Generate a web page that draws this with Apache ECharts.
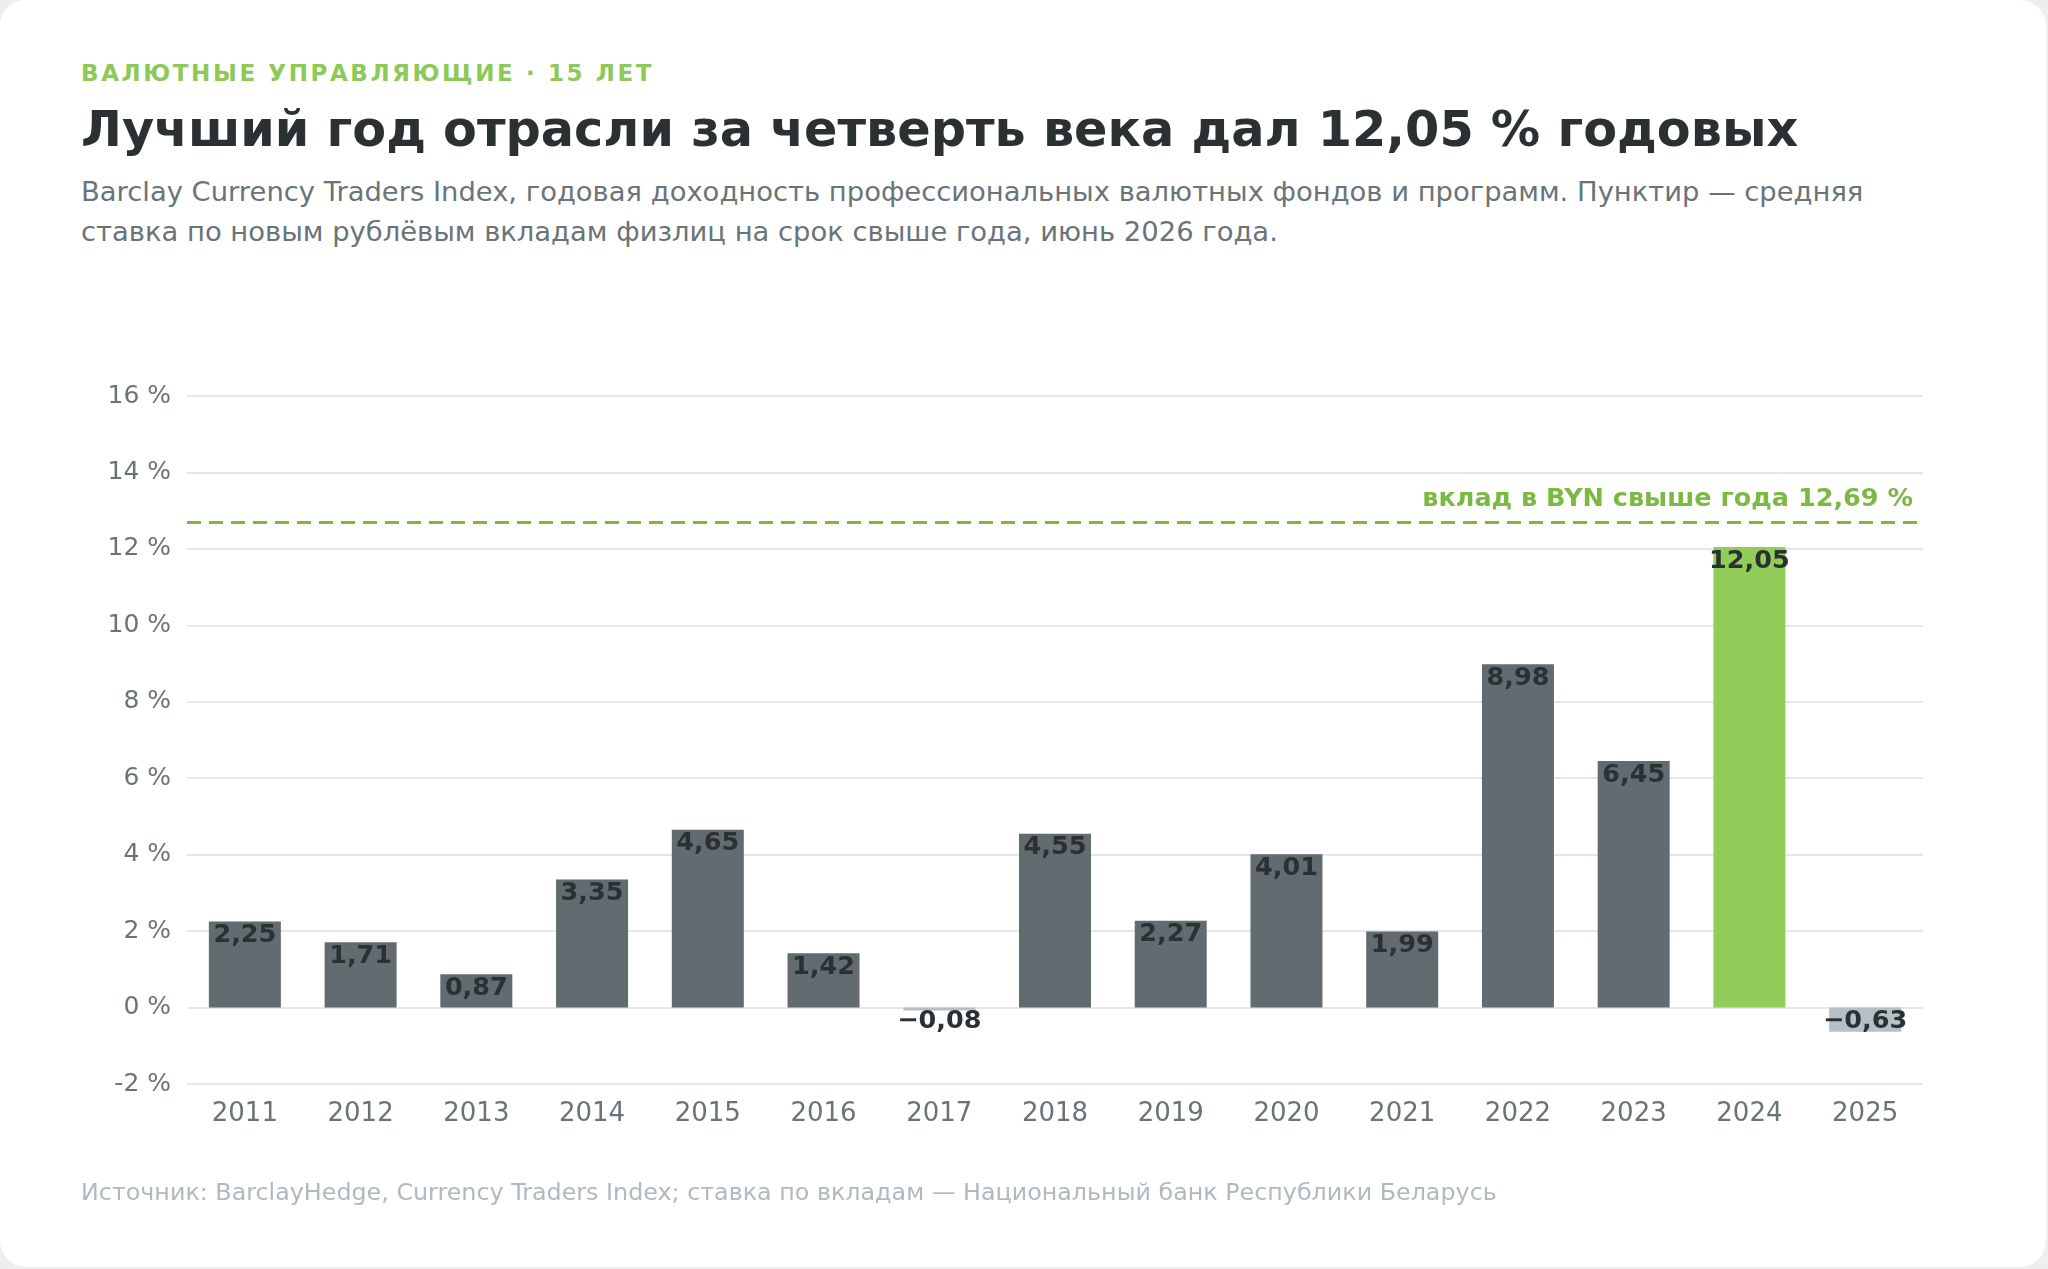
<!DOCTYPE html>
<html lang="ru">
<head>
<meta charset="utf-8">
<title>Валютные управляющие</title>
<script src="https://cdn.jsdelivr.net/npm/echarts@6/dist/echarts.min.js"></script>
<style>
  html, body { margin: 0; padding: 0; width: 2048px; height: 1269px; background: #eceeef; overflow: hidden; }
  .card { position: absolute; left: 0; top: 0; width: 2046px; height: 1267px; background: #fff; border-radius: 26px; font-family: "DejaVu Sans", sans-serif; }
  .txt { position: absolute; left: 81px; white-space: nowrap; }
  .eyebrow { top: 62px; font-size: 23px; line-height: 23px; font-weight: bold; color: #8dc957; letter-spacing: 2.6px; }
  .title { top: 105px; font-size: 49.3px; line-height: 49.5px; font-weight: bold; color: #2b3133; }
  .sub { top: 172px; font-size: 27.4px; line-height: 40px; color: #6a7478; }
  .source { top: 1180px; font-size: 23.8px; line-height: 24px; color: #b0b9be; }
  #chart { position: absolute; left: 0; top: 0; width: 2048px; height: 1269px; }
</style>
</head>
<body>
<div class="card">
  <div class="txt eyebrow">ВАЛЮТНЫЕ УПРАВЛЯЮЩИЕ · 15 ЛЕТ</div>
  <div class="txt title">Лучший год отрасли за четверть века дал 12,05 % годовых</div>
  <div class="txt sub">Barclay Currency Traders Index, годовая доходность профессиональных валютных фондов и программ. Пунктир — средняя<br>ставка по новым рублёвым вкладам физлиц на срок свыше года, июнь 2026 года.</div>
  <div id="chart"></div>
  <div class="txt source">Источник: BarclayHedge, Currency Traders Index; ставка по вкладам — Национальный банк Республики Беларусь</div>
</div>
<script>
// годы и доходность индекса, %
const years = ['2011', '2012', '2013', '2014', '2015', '2016', '2017', '2018',
               '2019', '2020', '2021', '2022', '2023', '2024', '2025'];
const returns = [2.25, 1.71, 0.87, 3.35, 4.65, 1.42, -0.08, 4.55,
                 2.27, 4.01, 1.99, 8.98, 6.45, 12.05, -0.63];
const bestYear = '2024';
// ставка по вкладам в BYN
const depositRate = 12.69;
const depositLabel = 'вклад в BYN свыше года 12,69 %';

const GREY = '#616b70',
      GREEN = '#92cd5a',
      NEG = '#b5c0c6',
      INK = '#2b3133',
      AXIS = '#6a7478';

const fmt = (v) => (v < 0 ? '\u2212' : '') + Math.abs(v).toFixed(2).replace('.', ',');

const barData = returns.map((v, i) => ({
  value: v,
  itemStyle: { color: years[i] === bestYear ? GREEN : (v < 0 ? NEG : GREY) }
}));

const chart = echarts.init(document.getElementById('chart'), null, { renderer: 'canvas' });
chart.setOption({
  animation: false,
  textStyle: { fontFamily: 'DejaVu Sans' },
  grid: { left: 187, right: 125, top: 396, bottom: 185, containLabel: false },
  xAxis: {
    type: 'category',
    data: years,
    axisLine: { show: false },
    axisTick: { show: false },
    axisLabel: { color: AXIS, fontSize: 26, margin: 17 }
  },
  yAxis: {
    type: 'value',
    min: -2,
    max: 16,
    interval: 2,
    axisLine: { show: false },
    axisTick: { show: false },
    axisLabel: { color: AXIS, fontSize: 25, margin: 16, formatter: '{value} %' },
    splitLine: { lineStyle: { color: '#e3e7ea', width: 2 } }
  },
  series: [{
    type: 'bar',
    data: barData,
    barWidth: 72,
    label: {
      show: true,
      position: 'insideTop',
      distance: 1,
      color: INK,
      fontSize: 25.5,
      fontWeight: 'bold',
      formatter: (p) => fmt(p.value)
    },
    markLine: {
      silent: true,
      symbol: ['none', 'none'],
      data: [{ yAxis: depositRate }],
      lineStyle: { color: '#7cb943', width: 3, type: [14, 8] },
      label: {
        position: 'insideEndTop',
        distance: [10, 10],
        formatter: depositLabel,
        color: '#7cb943',
        fontSize: 25.5,
        fontWeight: 'bold'
      }
    }
  }]
});
</script>
</body>
</html>
